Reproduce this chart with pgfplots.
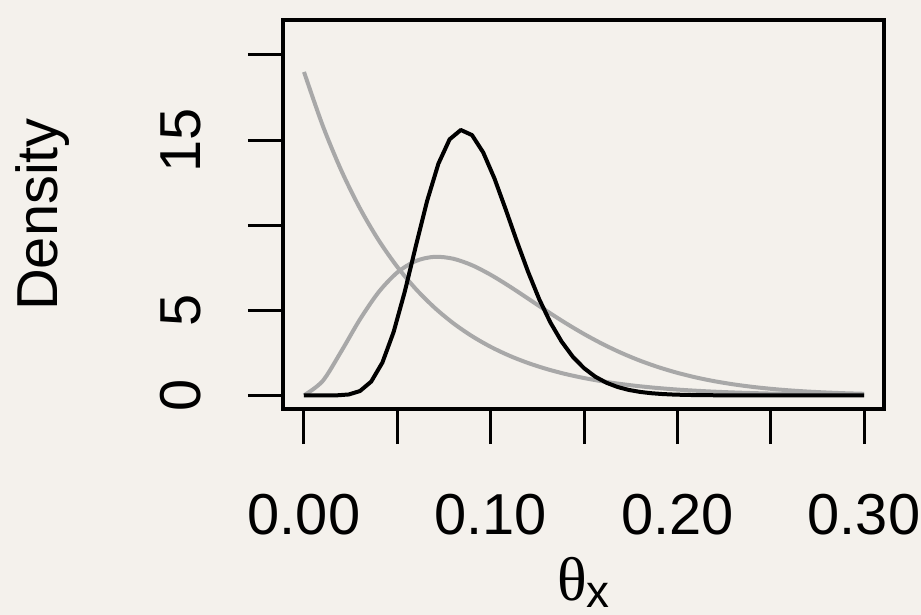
\documentclass[border=0pt]{standalone}
\usepackage{pgfplots}
\pgfplotsset{compat=1.18}
\usepackage{fontspec}
\setmainfont{Liberation Sans}
\newfontfamily\greekfont{Liberation Serif}
\definecolor{bg}{RGB}{244,241,236}
\definecolor{lgray}{RGB}{168,168,168}
\begin{document}
\begin{tikzpicture}
\path[use as bounding box, fill=bg] (-141.5bp,-103bp) rectangle (319bp,204.5bp);
\begin{axis}[
  at={(0,0)}, anchor=south west,
  scale only axis, width=300.5bp, height=194.5bp,
  xmin=-0.01125, xmax=0.3107, ymin=-0.8, ymax=22.05,
  axis line style={line width=1.6bp, black},
  xtick={0,0.05,0.1,0.15,0.2,0.25,0.3},
  xticklabels={0.00,,0.10,,0.20,,0.30},
  ytick={0,5,10,15,20},
  yticklabels={0,5,,15,},
  tick align=outside, xtick pos=bottom, ytick pos=left,
  major tick length=17.5bp,
  tick style={line width=1.5bp, black},
  xticklabel shift=25bp,
  yticklabel shift=23.5bp,
  xticklabel style={font=\fontsize{29}{35}\selectfont, anchor=north, inner sep=0pt},
  yticklabel style={font=\fontsize{29}{35}\selectfont, rotate=90, anchor=south, inner sep=0pt},
  xlabel={{\greekfont\fontsize{31}{37}\selectfont θ}\raisebox{-3.5bp}{\fontsize{23}{27}\selectfont x}},
  xlabel style={at={(axis description cs:0.5,-0.445)}, anchor=center, inner sep=0pt},
  ylabel={Density},
  ylabel style={at={(axis description cs:-0.400,0.5)}, anchor=center, inner sep=0pt, font=\fontsize{29}{35}\selectfont},
  clip=false,
]
% Beta(1,19)-like decreasing curve
\addplot[lgray, line width=2bp, smooth] coordinates {
(0,19) (0.01,15.856) (0.02,13.206) (0.03,10.981) (0.04,9.112) (0.05,7.547)
(0.06,6.238) (0.07,5.146) (0.08,4.236) (0.09,3.480) (0.10,2.852) (0.11,2.332)
(0.12,1.903) (0.13,1.549) (0.14,1.258) (0.15,1.019) (0.16,0.824) (0.17,0.664)
(0.18,0.534) (0.19,0.428) (0.20,0.342) (0.21,0.273) (0.22,0.217) (0.23,0.172)
(0.24,0.136) (0.25,0.107) (0.26,0.084) (0.27,0.066) (0.28,0.051) (0.29,0.040)
(0.30,0.031)
};
% prior hump
\addplot[lgray, line width=2bp, smooth] coordinates {
(0,0) (0.01,0.844) (0.02,2.593) (0.03,4.469) (0.04,6.068) (0.05,7.222)
(0.06,7.898) (0.07,8.141) (0.08,8.026) (0.09,7.646) (0.10,7.083) (0.11,6.412)
(0.12,5.687) (0.13,4.959) (0.14,4.258) (0.15,3.606) (0.16,3.016) (0.17,2.494)
(0.18,2.040) (0.19,1.652) (0.20,1.325) (0.21,1.053) (0.22,0.830) (0.23,0.649)
(0.24,0.503) (0.25,0.387) (0.26,0.295) (0.27,0.223) (0.28,0.168) (0.29,0.125)
(0.30,0.093)
};
% posterior
\addplot[black, line width=2bp, line join=round] coordinates {
(0,0) (0.006,0) (0.012,0.0002) (0.018,0.006) (0.024,0.054) (0.030,0.256)
(0.036,0.810) (0.042,1.928) (0.048,3.72) (0.054,6.10) (0.060,8.81) (0.066,11.44)
(0.072,13.61) (0.078,15.04) (0.084,15.59) (0.090,15.29) (0.096,14.27) (0.102,12.75)
(0.108,10.94) (0.114,9.06) (0.120,7.27) (0.126,5.65) (0.132,4.28) (0.138,3.16)
(0.144,2.27) (0.150,1.60) (0.156,1.10) (0.162,0.743) (0.168,0.492) (0.174,0.320)
(0.180,0.204) (0.186,0.128) (0.192,0.079) (0.198,0.048) (0.204,0.029) (0.210,0.017)
(0.216,0.010) (0.222,0.006) (0.228,0.003) (0.234,0.002) (0.240,0.001) (0.246,0)
(0.252,0) (0.258,0) (0.264,0) (0.270,0) (0.276,0) (0.282,0) (0.288,0) (0.294,0) (0.300,0)
};
\end{axis}
\end{tikzpicture}
\end{document}
